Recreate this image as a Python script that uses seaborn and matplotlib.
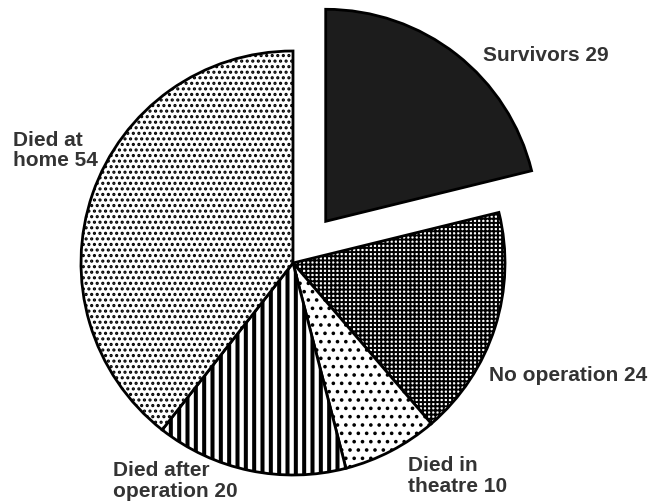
import matplotlib
matplotlib.use('Agg')
import matplotlib.pyplot as plt
import seaborn as sns

# Dados do gráfico
categorias = ['Survivors', 'No operation', 'Died in\ntheatre', 'Died after\noperation', 'Died at\nhome']
valores = [29, 24, 10, 20, 54]
rotulos = ['Survivors 29', 'No operation 24', 'Died in\ntheatre 10', 'Died after\noperation 20', 'Died at\nhome 54']

sns.set_style('white')
plt.rcParams['font.family'] = ['Liberation Sans', 'DejaVu Sans']

fig = plt.figure(figsize=(6.66, 5.02), dpi=100)
ax = fig.add_axes([0, 0, 1, 1])
ax.set_xlim(0, 666)
ax.set_ylim(0, 502)

cores = ['#1c1c1c', 'white', 'white', 'white', 'white']
hachuras = [None, '++++', '..', '||', '...']
larguras_hachura = [1.0, 1.4, 1.4, 2.9, 1.5]
# deslocamento da fatia em unidades do eixo (px)
explodir = [53, 0, 0, 0, 0]

wedges, _ = ax.pie(valores, explode=explodir, startangle=90, counterclock=False,
                   center=(293, 238), radius=212, colors=cores, frame=True,
                   wedgeprops=dict(edgecolor='black', linewidth=2.0))
for w, h, lw in zip(wedges, hachuras, larguras_hachura):
    if h:
        w.set_hatch(h)
    if hasattr(w, 'set_hatch_linewidth'):
        w.set_hatch_linewidth(lw)

# Posições dos rótulos (px a partir do topo, linha de base da última linha)
pos_rotulos = [(483, 61), (489, 381), (408, 492), (113, 497), (13, 166)]
for txt, (x, y) in zip(rotulos, pos_rotulos):
    ax.text(x, 502 - y, txt, fontsize=15, fontweight='bold', color='#333333',
            ha='left', va='baseline', linespacing=1.1)

ax.set_aspect('auto')
ax.axis('off')
plt.savefig('out.png', dpi=100)
